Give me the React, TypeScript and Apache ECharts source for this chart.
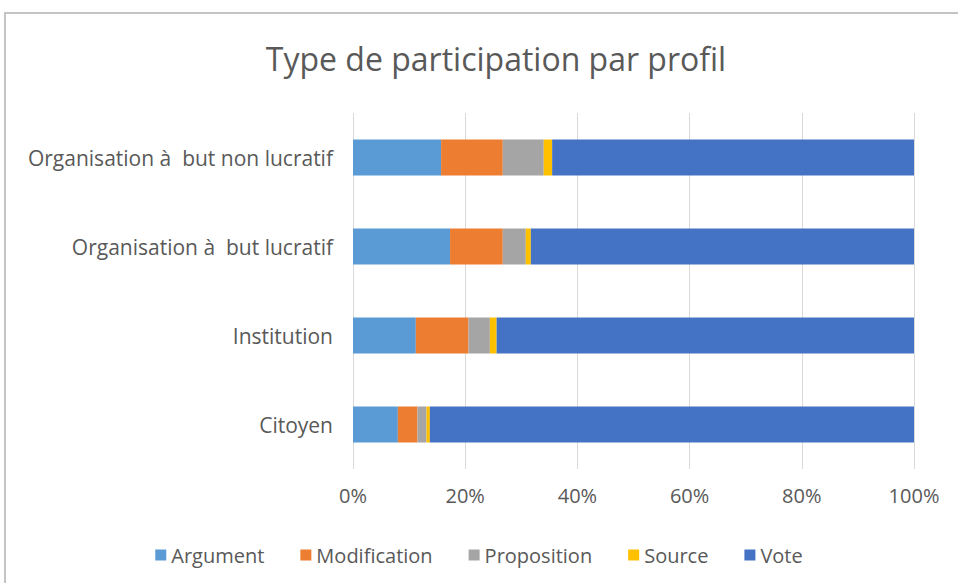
import React, { useEffect, useRef } from "react";
import * as echarts from "echarts";

const categories = [
  "Citoyen",
  "Institution",
  "Organisation à  but lucratif",
  "Organisation à  but non lucratif",
];
const seriesNames = ["Argument", "Modification", "Proposition", "Source", "Vote"];
const argumentVals = [8.0, 11.2, 17.3, 15.7];
const modificationVals = [3.5, 9.4, 9.4, 11.0];
const propositionVals = [1.6, 3.8, 4.1, 7.3];
const sourceVals = [0.6, 1.2, 0.9, 1.5];
const voteVals = [86.3, 74.4, 68.3, 64.5];
const xTicks = [0, 20, 40, 60, 80, 100];
const colors = ["#5B9BD5", "#ED7D31", "#A5A5A5", "#FFC000", "#4472C4"];

export default function App() {
  const ref = useRef<HTMLDivElement>(null);
  useEffect(() => {
    if (!ref.current) return;
    const chart = echarts.init(ref.current, undefined, { renderer: "svg" });
    const values = [argumentVals, modificationVals, propositionVals, sourceVals, voteVals];
    const font = "'Open Sans', 'Noto Sans', sans-serif";
    chart.setOption({
      animation: false,
      backgroundColor: "#ffffff",
      textStyle: { fontFamily: font },
      title: {
        text: "Type de participation par profil",
        left: 491,
        textAlign: "center",
        top: 37,
        textStyle: { fontFamily: font, fontSize: 32, fontWeight: "normal", color: "#595959" },
      },
      legend: {
        data: seriesNames,
        left: "center",
        top: 540,
        itemWidth: 11,
        itemHeight: 11,
        itemGap: 36,
        icon: "rect",
        textStyle: { fontFamily: font, fontSize: 20, color: "#595959" },
      },
      grid: { left: 353, right: 44, top: 113, bottom: 114, containLabel: false },
      xAxis: {
        type: "value",
        min: 0,
        max: 100,
        interval: 20,
        axisLine: { show: false },
        axisTick: { show: false },
        splitLine: { show: true, lineStyle: { color: "#d9d9d9", width: 1 } },
        axisLabel: {
          formatter: (v: number) => (xTicks.includes(v) ? v + "%" : ""),
          fontFamily: font,
          fontSize: 20,
          color: "#595959",
          margin: 16,
        },
      },
      yAxis: {
        type: "category",
        data: categories,
        axisLine: { show: false },
        axisTick: { show: false },
        axisLabel: { fontFamily: font, fontSize: 21, color: "#595959", margin: 20 },
      },
      graphic: [
        {
          type: "rect",
          shape: { x: 5, y: 13, width: 1000, height: 620 },
          style: { fill: "none", stroke: "#c4c4c4", lineWidth: 2 },
          silent: true,
        },
      ],
      series: seriesNames.map((name, i) => ({
        name,
        type: "bar",
        stack: "total",
        data: values[i],
        barWidth: 36,
        itemStyle: { color: colors[i] },
      })),
    });
    return () => chart.dispose();
  }, []);
  return (
    <div
      ref={ref}
      style={{ position: "fixed", left: 0, top: 0, width: 958, height: 583 }}
    />
  );
}
